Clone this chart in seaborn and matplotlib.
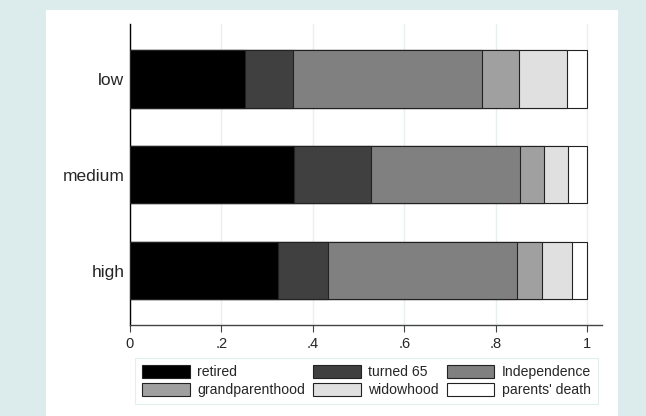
import matplotlib
matplotlib.use("Agg")
import matplotlib.pyplot as plt
from matplotlib.patches import Rectangle, Patch
import numpy as np
import pandas as pd
import seaborn as sns

groups = ["low", "medium", "high"]
events = ["retired", "turned 65", "Independence",
          "grandparenthood", "widowhood", "parents' death"]
retired = [0.251, 0.358, 0.323]
turned_65 = [0.106, 0.168, 0.111]
independence = [0.412, 0.327, 0.413]
grandparenthood = [0.081, 0.052, 0.055]
widowhood = [0.106, 0.053, 0.064]
parents_death = [0.044, 0.042, 0.034]

colors = ["#000000", "#404040", "#808080", "#a0a0a0", "#e0e0e0", "#ffffff"]
edge = "#222222"
teal = "#dcecec"

sns.set_style("white")
plt.rcParams["font.family"] = ["Liberation Sans", "DejaVu Sans"]

shares = pd.DataFrame(
    [retired, turned_65, independence, grandparenthood, widowhood, parents_death],
    index=events, columns=groups,
).T
cum = shares.cumsum(axis=1)

fig = plt.figure(figsize=(6.46, 4.16), dpi=100, facecolor=teal)
fig.patches.append(Rectangle((46 / 646, 0), 572 / 646, 406 / 416,
                             transform=fig.transFigure, facecolor="white",
                             edgecolor="none", zorder=-5))
ax = fig.add_axes([130 / 646, 1 - 325 / 416, 472.4 / 646, 301 / 416])
ax.set_facecolor("white")

# draw longest cumulative first so shorter ones sit on top
for ev, col in reversed(list(zip(events, colors))):
    d = pd.DataFrame({"group": groups, "value": cum[ev].values})
    sns.barplot(data=d, x="value", y="group", order=groups, orient="h",
                color=col, saturation=1, width=0.6, edgecolor=edge,
                linewidth=0.8, ax=ax, zorder=3)

ax.set_xlim(0, 1.033)
ax.set_ylim(2.569, -0.574)
ax.set_xticks([0, 0.2, 0.4, 0.6, 0.8, 1.0])
ax.set_xticklabels(["0", ".2", ".4", ".6", ".8", "1"])
ax.set_xlabel("")
ax.set_ylabel("")
ax.xaxis.grid(True, color="#e6f0f0", linewidth=1.0)
ax.yaxis.grid(False)
ax.set_axisbelow(True)
for s in ["top", "right"]:
    ax.spines[s].set_visible(False)
ax.spines["left"].set_color("black")
ax.spines["left"].set_linewidth(1.0)
ax.spines["bottom"].set_color("#444444")
ax.spines["bottom"].set_linewidth(1.0)
ax.tick_params(axis="x", length=5, width=0.8, color="#444444",
               labelsize=10.5, pad=4, bottom=True)
ax.tick_params(axis="y", length=0, labelsize=12.5, pad=4)

handles = [Patch(facecolor=c, edgecolor=edge, linewidth=0.8, label=e)
           for e, c in zip(events, colors)]
order = [0, 3, 1, 4, 2, 5]
leg = fig.legend([handles[i] for i in order], [events[i] for i in order],
                 ncol=3, loc="upper left", borderaxespad=0,
                 bbox_to_anchor=(135 / 646, 1 - 358 / 416),
                 fontsize=10.1, frameon=True, fancybox=False,
                 handlelength=3.4, handleheight=1.0, handletextpad=0.55,
                 columnspacing=0.55, labelspacing=0.3, borderpad=0.5)
leg.get_frame().set_edgecolor(teal)
leg.get_frame().set_linewidth(0.8)

fig.savefig("out.png", dpi=100, facecolor=teal)
